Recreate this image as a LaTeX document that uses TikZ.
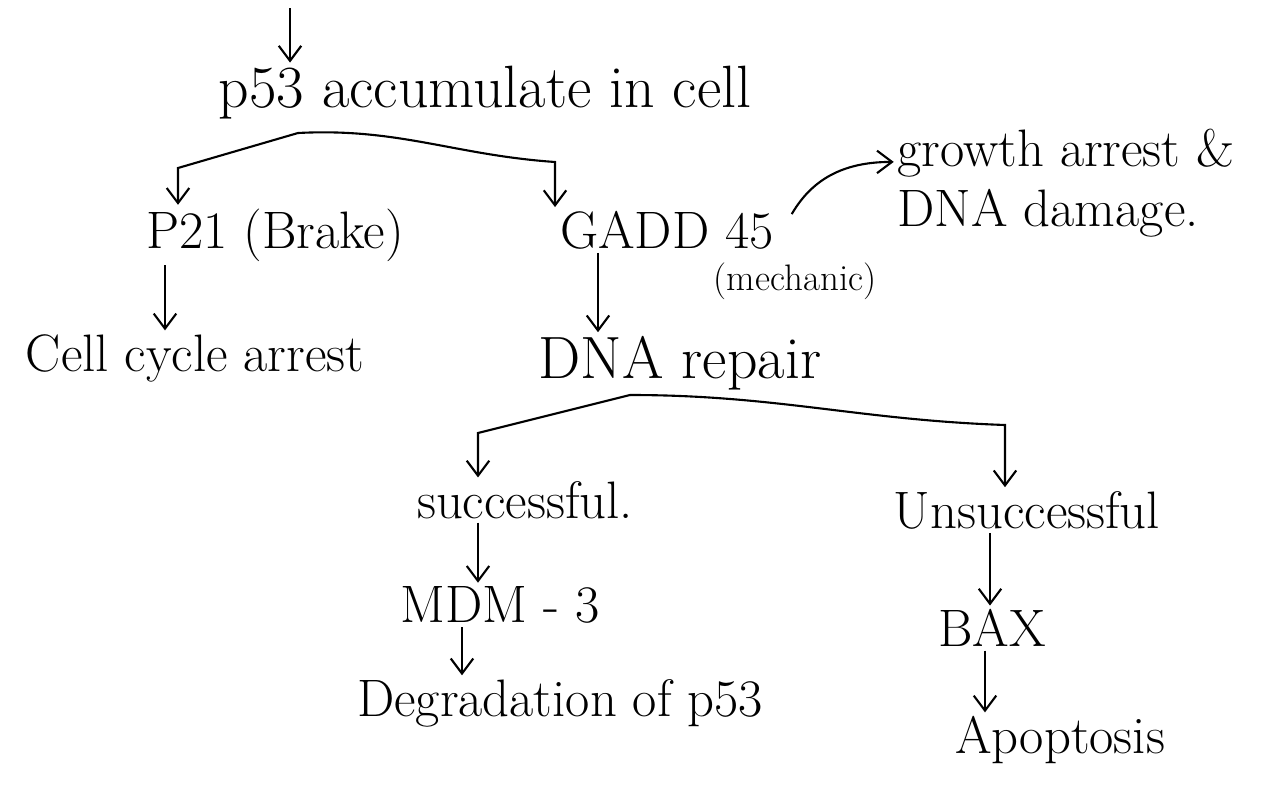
\documentclass[tikz,border=0pt]{standalone}
\usetikzlibrary{arrows.meta}
\tikzset{
  hand/.style={font=\fontsize{30}{34}\selectfont, inner sep=2pt},
  bighand/.style={font=\fontsize{34}{38}\selectfont, inner sep=2pt},
  smallhand/.style={font=\fontsize{21}{25}\selectfont, inner sep=2pt},
  flow/.style={-{Straight Barb[length=3mm,width=4.5mm]}, line width=1.2pt},
}
\begin{document}
\begin{tikzpicture}[x=0.02cm,y=-0.02cm]
  \useasboundingbox (0,0) rectangle (1262,785);

  % Text of the flow
  \node[bighand] (p53) at (485,93) {p53 accumulate in cell};
  \node[hand] (p21) at (275,235) {P21 (Brake)};
  \node[hand] (gadd) at (667,230) {GADD 45};
  \node[smallhand] (mech) at (795,281) {(mechanic)};
  \node[hand, align=left] (growth) at (1066,183) {growth arrest \&\\DNA damage.};
  \node[hand] (cell) at (195,358) {Cell cycle arrest};
  \node[bighand] (repair) at (680,363) {DNA repair};
  \node[hand] (succ) at (525,500) {successful.};
  \node[hand] (unsucc) at (1027,510) {Unsuccessful};
  \node[hand] (mdm) at (500,605) {MDM - 3};
  \node[hand] (bax) at (992,628) {BAX};
  \node[hand] (degr) at (560,703) {Degradation of p53};
  \node[hand] (apop) at (1060,740) {Apoptosis};

  % Columns of the down arrows
  \coordinate (top) at (290,8);
  \coordinate (c1) at (165,0);
  \coordinate (c2) at (598,0);
  \coordinate (c3) at (478,0);
  \coordinate (c4) at (462,0);
  \coordinate (c5) at (990,0);
  \coordinate (c6) at (985,0);

  % Branch points
  \coordinate (split1) at (298,133);
  \coordinate (lbend) at (178,168);
  \coordinate (rbend) at (555,162);
  \coordinate (split2) at (630,395);
  \coordinate (sbend) at (478,433);
  \coordinate (ubend) at (1005,425);

  % Arrows
  \draw[flow] (top) -- (top |- p53.north);
  \draw[flow] (split1) -- (lbend) -- (lbend |- p21.north);
  \draw[flow] (split1) to[out=3,in=176] (rbend) -- (rbend |- gadd.north);
  \draw[flow] (p21.south -| c1) -- (cell.north -| c1);
  \draw[flow] (gadd.south -| c2) -- (repair.north -| c2);
  \draw[flow] ([xshift=8pt,yshift=-4pt]gadd.north east) to[out=60,in=180] ([yshift=12pt]growth.west);
  \draw[flow] (split2) -- (sbend) -- (sbend |- succ.north);
  \draw[flow] (split2) to[out=0,in=178] (ubend) -- (ubend |- unsucc.north);
  \draw[flow] (succ.south -| c3) -- (mdm.north -| c3);
  \draw[flow] (mdm.south -| c4) -- (degr.north -| c4);
  \draw[flow] (unsucc.south -| c5) -- (bax.north -| c5);
  \draw[flow] (bax.south -| c6) -- (apop.north -| c6);
\end{tikzpicture}
\end{document}
